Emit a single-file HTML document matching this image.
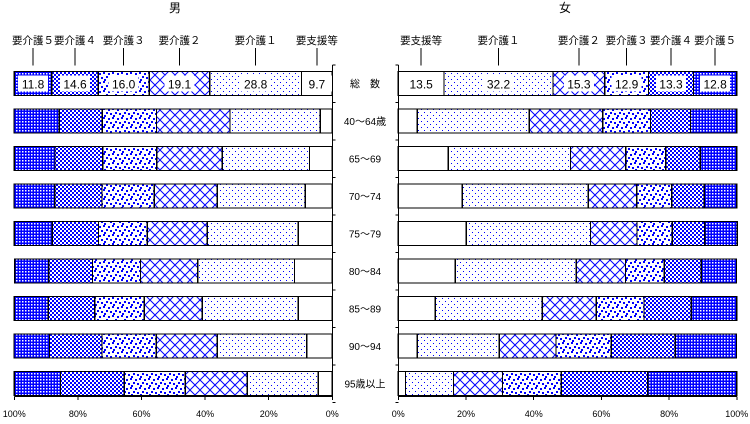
<!DOCTYPE html>
<html><head><meta charset="utf-8"><style>
html,body{margin:0;padding:0;background:#fff;}
svg{display:block;font-family:"Liberation Sans","Noto Sans CJK JP",sans-serif;}
</style></head><body>
<svg id="chart" width="750" height="424" viewBox="0 0 750 424" xmlns="http://www.w3.org/2000/svg" shape-rendering="crispEdges">
<defs>
<pattern id="p1" width="6" height="6" patternUnits="userSpaceOnUse"><rect width="6" height="6" fill="#fff"/><rect x="1" y="1" width="1" height="1" fill="#00f"/><rect x="4" y="4" width="1" height="1" fill="#00f"/></pattern>
<pattern id="p2" width="10" height="10" patternUnits="userSpaceOnUse"><rect width="10" height="10" fill="#fff"/><path d="M0,0L10,10M10,0L0,10" stroke="#00f" stroke-width="1" shape-rendering="auto"/></pattern>
<pattern id="p3" width="9" height="9" patternUnits="userSpaceOnUse"><rect width="9" height="9" fill="#fff"/><rect x="0" y="1" width="2" height="2" fill="#00f"/><rect x="4" y="0" width="2" height="2" fill="#00f"/><rect x="7" y="4" width="2" height="2" fill="#00f"/><rect x="2" y="5" width="2" height="2" fill="#00f"/><rect x="5" y="7" width="2" height="2" fill="#00f"/></pattern>
<pattern id="p4" width="4" height="4" patternUnits="userSpaceOnUse"><rect width="4" height="4" fill="#fff"/><rect width="2" height="2" fill="#00f"/><rect x="2" y="2" width="2" height="2" fill="#00f"/></pattern>
<pattern id="p5" width="3" height="3" patternUnits="userSpaceOnUse"><rect width="3" height="3" fill="#00f"/><rect x="1" y="1" width="1.4" height="1.4" fill="#fff"/></pattern>
</defs>
<text x="175" y="12" font-size="12" text-anchor="middle">男</text>
<text x="565" y="12" font-size="12" text-anchor="middle">女</text>
</svg>
<script>
// level order: 要支援等, 要介護1..5
const levels = ["要支援等","要介護１","要介護２","要介護３","要介護４","要介護５"];
const categories = ["総　数","40～64歳","65～69","70～74","75～79","80～84","85～89","90～94","95歳以上"];
const male = [
 [9.7,28.8,19.1,16.0,14.6,11.8],
 [3.8,28.4,23.1,17.0,13.6,14.2],
 [7.2,27.4,20.6,17.0,15.0,12.8],
 [8.5,27.7,19.8,16.4,14.9,12.8],
 [10.7,28.6,18.9,15.3,14.6,11.9],
 [11.9,30.4,18.0,15.1,13.8,10.7],
 [10.7,30.2,18.2,15.6,14.6,10.7],
 [8.0,28.2,19.2,17.0,16.5,11.2],
 [4.4,22.3,19.5,19.2,20.1,14.5]
];
const female = [
 [13.5,32.2,15.3,12.9,13.3,12.8],
 [5.6,33.1,21.7,14.1,11.8,13.7],
 [14.8,36.1,16.3,11.8,10.2,10.8],
 [18.9,37.2,14.3,10.4,9.6,9.6],
 [20.1,36.7,13.7,10.4,9.6,9.6],
 [16.8,35.8,14.5,11.5,10.9,10.4],
 [10.9,31.6,16.0,14.1,13.9,13.5],
 [5.6,24.2,16.8,16.3,18.9,18.1],
 [2.1,14.2,14.5,17.3,25.6,26.3]
];
const ticks = [0,20,40,60,80,100];
const tickLabels = ["0%","20%","40%","60%","80%","100%"];

const svg = document.getElementById('chart');
const NS = "http://www.w3.org/2000/svg";
const fills = ["#fff","url(#p1)","url(#p2)","url(#p3)","url(#p4)","url(#p5)"];
const mx = p => 332.3 - p*3.18;   // male axis: 0% right
const fx = p => 398.3 + p*3.385;  // female axis: 0% left
const rowY = i => 71.5 + i*37.5;
const H = 24;
function mk(tag, attrs, parent){const e=document.createElementNS(NS,tag);for(const k in attrs)e.setAttribute(k,attrs[k]);(parent||svg).appendChild(e);return e;}

function drawPanel(data, xf, side){
  const g = mk('g',{});
  
  
  data.forEach((row,i)=>{
    let cum=0;
    row.forEach((v,j)=>{
      const a=xf(cum), b=xf(cum+v); cum+=v;
      const r = mk('rect',{x:Math.min(a,b),y:rowY(i),width:Math.abs(b-a),height:H,fill:fills[j],stroke:"#000","stroke-width":1.3},g);
      
      
      if(i===0){
        const c=(a+b)/2;
        const bx = mk('rect',{x:c-15,y:rowY(0)+4,width:30,height:16,fill:"#fff"},g);
        
        
        const t = mk('text',{x:c,y:rowY(0)+17,"font-size":12,"text-anchor":"middle"},g);
        t.textContent = v.toFixed(1);
        
        
        const ln = mk('line',{x1:c,y1:48,x2:c,y2:rowY(0)-6,stroke:"#000","stroke-width":1},g);
        
        
        const lt = mk('text',{x:c,y:44,"font-size":10.5,"text-anchor":"middle"},g);
        lt.textContent = levels[j];
        
        
      }
    });
  });
  const ax0 = xf(0);
  const va = mk('line',{x1:ax0,y1:65,x2:ax0,y2:396.5,stroke:"#000"},g);
  
  
  const ha = mk('line',{x1:xf(0),y1:396.5,x2:xf(100),y2:396.5,stroke:"#000"},g);
  
  
  for(let i=0;i<=categories.length;i++){
    const y=rowY(i)-6.5;
    const d = side==='male'?3:-3;
    const tk = mk('line',{x1:ax0,y1:y,x2:ax0+d,y2:y,stroke:"#000"},g);
    
    
  }
  ticks.forEach((t,k)=>{
    const x=xf(t);
    const tk = mk('line',{x1:x,y1:396.5,x2:x,y2:400,stroke:"#000"},g);
    
    
    const tl = mk('text',{x:x,y:417,"font-size":9,"text-anchor":"middle"},g);
    tl.textContent = tickLabels[k];
    
    
  });
}
drawPanel(male, mx, 'male');
drawPanel(female, fx, 'female');
categories.forEach((c,i)=>{
  const t = mk('text',{x:365,y:rowY(i)+16,"font-size":10,"text-anchor":"middle"});
  t.textContent = c;
  
  
});
</script>
</body></html>
